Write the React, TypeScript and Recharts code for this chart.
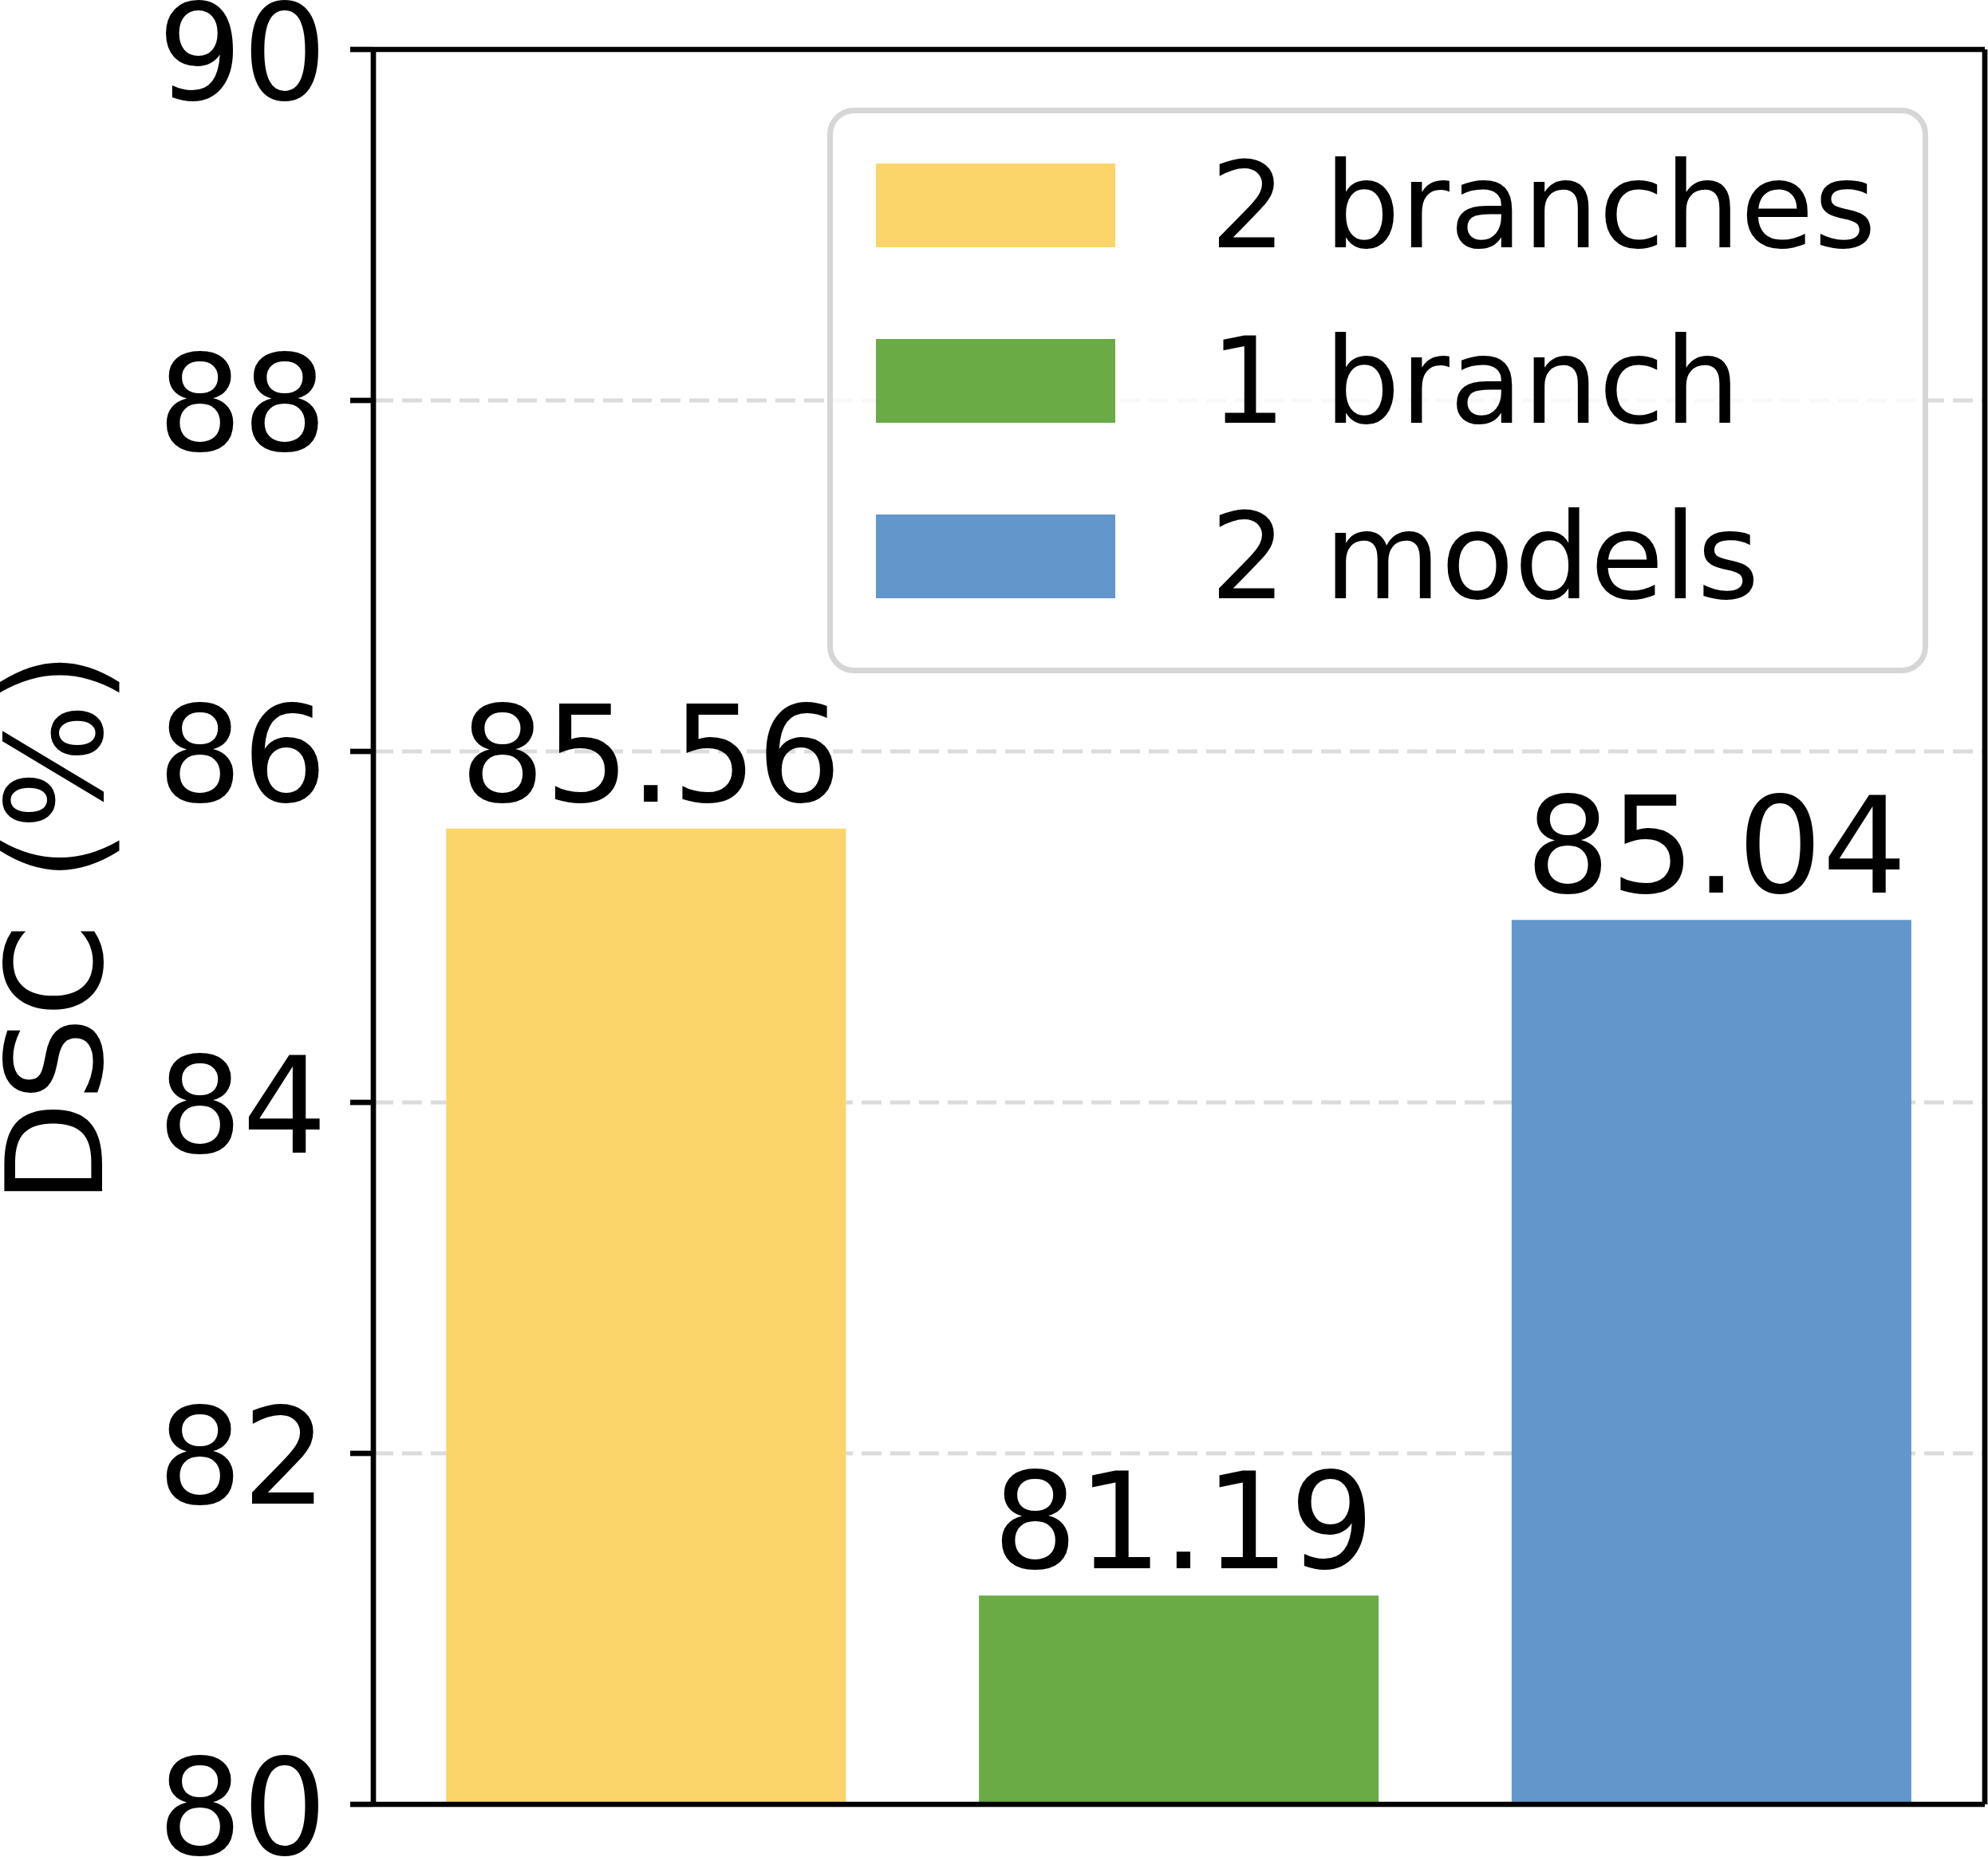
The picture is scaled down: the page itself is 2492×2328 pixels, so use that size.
import React from 'react';
import { BarChart, Bar, XAxis, YAxis, CartesianGrid, Cell, LabelList, Legend, ReferenceLine } from 'recharts';

const categories = ['2 branches', '1 branch', '2 models'];
const values = [85.56, 81.19, 85.04];
const colors = ['#FBD56A', '#6BAB46', '#6397CB'];
const yTicks = [80, 82, 84, 86, 88, 90];

const data = categories.map((name, i) => ({ x: i, name, value: values[i] }));

const FONT = '"DejaVu Sans", Verdana, sans-serif';
const SPINE = 6.7;

const LegendBox = () => (
  <svg width={1380} height={709} style={{ display: 'block' }}>
    <rect x={3.5} y={3.5} width={1373} height={702} rx={30} ry={30} fill="#fff" fillOpacity={0.8} stroke="#d6d6d6" strokeWidth={7} />
    {categories.map((name, i) => (
      <g key={name}>
        <rect x={61} y={70 + 220 * i} width={300} height={105} fill={colors[i]} />
        <text x={480} y={175 + 220 * i} fontSize={150} fontFamily={FONT} fill="#000">{name}</text>
      </g>
    ))}
  </svg>
);

const YLabel = (props: any) => {
  const vb = props.viewBox || { x: 0, y: 0, width: 0, height: 0 };
  const cx = vb.x + 128;
  const cy = vb.y + vb.height / 2 + 1;
  return (
    <text x={cx} y={cy} transform={`rotate(-90 ${cx} ${cy})`} textAnchor="middle" fontSize={167} fontFamily={FONT} fill="#000">
      DSC (%)
    </text>
  );
};

export default function App() {
  return (
    <div style={{ position: 'absolute', left: 0, top: 0, width: 2492, height: 2328, background: '#fff' }}>
      <BarChart width={2492} height={2328} data={data} margin={{ top: 62, right: 0, bottom: 66, left: 0 }}>
        <CartesianGrid horizontal vertical={false} stroke="#dcdcdc" strokeWidth={5} strokeDasharray="25 11" />
        <XAxis
          dataKey="x"
          type="number"
          domain={[-0.5125, 2.5125]}
          allowDataOverflow
          hide
        />
        <YAxis
          domain={[80, 90]}
          ticks={yTicks}
          interval={0}
          allowDataOverflow
          width={468}
          tickSize={29}
          tickMargin={29}
          axisLine={{ stroke: '#000', strokeWidth: SPINE }}
          tickLine={{ stroke: '#000', strokeWidth: SPINE }}
          tick={{ fontSize: 167, fill: '#000', fontFamily: FONT, dy: 4 }}
          label={<YLabel />}
        />
        <YAxis
          yAxisId="right"
          orientation="right"
          domain={[80, 90]}
          width={4}
          tick={false}
          tickLine={false}
          axisLine={{ stroke: '#000', strokeWidth: SPINE }}
        />
        <Bar dataKey="value" barSize={501} isAnimationActive={false}>
          {data.map((d, i) => (
            <Cell key={d.name} fill={colors[i]} />
          ))}
          <LabelList
            dataKey="value"
            position="top"
            offset={34}
            dx={6}
            formatter={(v: any) => Number(v).toFixed(2)}
            style={{ fontSize: 167, fill: '#000', fontFamily: FONT }}
          />
        </Bar>
        <ReferenceLine y={90} stroke="#000" strokeWidth={SPINE} ifOverflow="visible" />
        <ReferenceLine y={80} stroke="#000" strokeWidth={SPINE} ifOverflow="visible" />
        <Legend
          layout="vertical"
          align="center"
          verticalAlign="middle"
          content={<LegendBox />}
          wrapperStyle={{ position: 'absolute', left: 1037, top: 135, width: 1380, height: 709 }}
        />
      </BarChart>
    </div>
  );
}
